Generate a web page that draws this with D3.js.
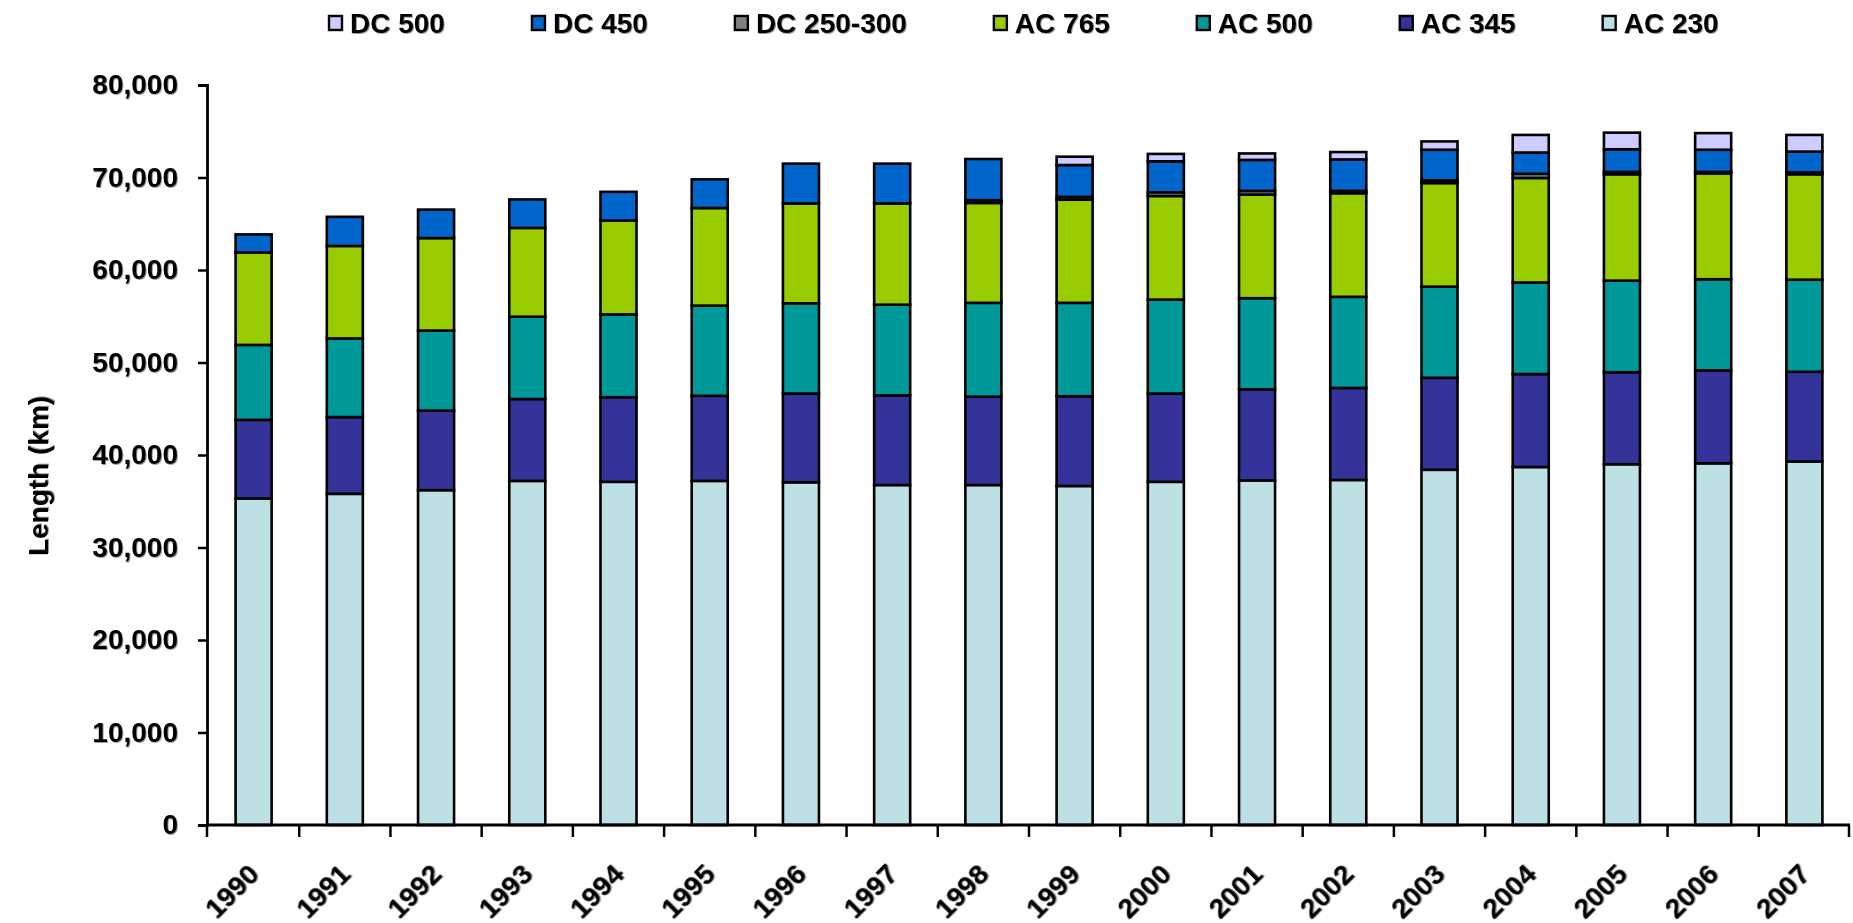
<!DOCTYPE html>
<html>
<head>
<meta charset="utf-8">
<script src="https://cdn.jsdelivr.net/npm/d3@7"></script>
<style>
  body { margin: 0; background: #fff; }
  text { font-family: "Liberation Sans", Arial, sans-serif; font-weight: bold; fill: #000; }
  .shadow { filter: drop-shadow(1.5px 1.5px 0px #9a9a9a); }
</style>
</head>
<body>
<div id="chart-area"></div>
<script>

// data (km)
var years = [1990, 1991, 1992, 1993, 1994, 1995, 1996, 1997, 1998, 1999,
             2000, 2001, 2002, 2003, 2004, 2005, 2006, 2007];

var ac230 = [35300, 35800, 36200, 37200, 37100, 37200, 37050, 36750, 36750, 36650,
             37100, 37250, 37300, 38400, 38700, 39000, 39100, 39300];
var ac345 = [8500, 8300, 8600, 8850, 9150, 9200, 9600, 9700, 9550, 9700,
             9550, 9850, 9950, 9950, 10050, 9950, 10050, 9700];
var ac500 = [8100, 8500, 8650, 8900, 8950, 9750, 9750, 9800, 10150, 10100,
             10150, 9850, 9850, 9850, 9900, 9900, 9850, 9950];
var ac765 = [10000, 10000, 10000, 9600, 10150, 10550, 10800, 10950, 10800, 11150,
             11200, 11200, 11200, 11200, 11300, 11500, 11450, 11400];
var dc250 = [0, 0, 0, 0, 0, 0, 0, 0, 300, 300,
             400, 400, 250, 300, 450, 250, 150, 200];
var dc450 = [1950, 3150, 3080, 3080, 3100, 3100, 4300, 4300, 4450, 3450,
             3350, 3350, 3400, 3300, 2300, 2450, 2400, 2250];
var dc500 = [0, 0, 0, 0, 0, 0, 0, 0, 0, 900,
             800, 700, 800, 900, 1900, 1800, 1800, 1800];

// stacking order, bottom to top
var seriesNames = ["AC 230", "AC 345", "AC 500", "AC 765", "DC 250-300", "DC 450", "DC 500"];
var seriesValues = [ac230, ac345, ac500, ac765, dc250, dc450, dc500];
var yTicks = [0, 10000, 20000, 30000, 40000, 50000, 60000, 70000, 80000];

var colors = ["#bce0e3", "#333399", "#009999", "#99cc00", "#808080", "#0066cc", "#ccccff"];

var W = 1853, H = 923;
var margin = {top: 85, right: 3, bottom: 98, left: 207};

var svg = d3.select("#chart-area").append("svg")
    .attr("width", W)
    .attr("height", H);

var table = years.map(function(y, i) {
    var row = {year: y};
    seriesNames.forEach(function(s, k) { row[s] = seriesValues[k][i]; });
    return row;
});

var stack = d3.stack().keys(seriesNames);
var layers = stack(table);

var x = d3.scaleBand()
    .domain(years)
    .range([margin.left + 1, W - margin.right])
    .paddingInner(0.605)
    .paddingOuter(0.3025);

var y = d3.scaleLinear()
    .domain([0, 80000])
    .range([H - margin.bottom, margin.top]);

var color = d3.scaleOrdinal().domain(seriesNames).range(colors);

// bars
svg.selectAll(".layer")
    .data(layers)
    .enter()
    .append("g")
    .attr("class", "layer")
    .attr("fill", function(d) { return color(d.key); })
    .selectAll("rect")
    .data(function(d) { return d.filter(function(p) { return p[1] - p[0] > 0; }); })
    .enter()
    .append("rect")
    .attr("x", function(d) { return x(d.data.year); })
    .attr("width", x.bandwidth())
    .attr("y", function(d) { return y(d[1]); })
    .attr("height", function(d) { return y(d[0]) - y(d[1]); })
    .attr("stroke", "#000")
    .attr("stroke-width", 2.6);

// y axis
var yAxis = svg.append("g")
    .attr("transform", "translate(" + margin.left + ",0)")
    .call(d3.axisLeft(y).tickValues(yTicks).tickFormat(d3.format(",")).tickSize(9).tickPadding(20));

yAxis.select(".domain").attr("stroke", "#000").attr("stroke-width", 2.8);
yAxis.selectAll(".tick line").attr("stroke", "#000").attr("stroke-width", 2.5);
yAxis.selectAll(".tick text")
    .attr("class", "shadow")
    .style("font-size", "28px")
    .style("font-family", "'Liberation Sans', Arial, sans-serif")
    .style("font-weight", "bold");

// x axis line + category boundary ticks
var x0 = x.range()[0] - 1, x1 = x.range()[1];
var base = y(0);
svg.append("line")
    .attr("x1", x0).attr("x2", x1)
    .attr("y1", base).attr("y2", base)
    .attr("stroke", "#000").attr("stroke-width", 2.8);

var bounds = years.map(function(d) { return x(d) - x.step() * x.paddingInner() / 2; });
bounds.push(x1 - 1);
bounds[0] = x0;
svg.selectAll(".xtick")
    .data(bounds)
    .enter()
    .append("line")
    .attr("class", "xtick")
    .attr("x1", function(d) { return d; })
    .attr("x2", function(d) { return d; })
    .attr("y1", base)
    .attr("y2", base + 12)
    .attr("stroke", "#000")
    .attr("stroke-width", 2.5);

svg.selectAll(".xlabel")
    .data(years)
    .enter()
    .append("text")
    .attr("class", "xlabel shadow")
    .attr("text-anchor", "end")
    .attr("font-size", 28)
    .attr("transform", function(d) {
        return "translate(" + (x(d) + x.bandwidth() / 2 + 7) + "," + (base + 51) + ") rotate(-45)";
    })
    .text(function(d) { return d; });

// y title
svg.append("text")
    .attr("class", "shadow")
    .attr("text-anchor", "middle")
    .attr("font-size", 28)
    .attr("transform", "translate(48,476) rotate(-90)")
    .text("Length (km)");

// legend (top row, reverse of stack order)
var legendNames = seriesNames.slice().reverse();
var lx = 328;
legendNames.forEach(function(name) {
    var g = svg.append("g").attr("transform", "translate(" + lx + ",0)");
    g.append("rect")
        .attr("x", 1).attr("y", 16)
        .attr("width", 13).attr("height", 14)
        .attr("fill", color(name))
        .attr("stroke", "#000")
        .attr("stroke-width", 2.4);
    var t = g.append("text")
        .attr("class", "shadow")
        .attr("x", 22)
        .attr("y", 33)
        .attr("font-size", 28)
        .text(name);
    lx += 22 + t.node().getComputedTextLength() + 86;
});

</script>
</body>
</html>
